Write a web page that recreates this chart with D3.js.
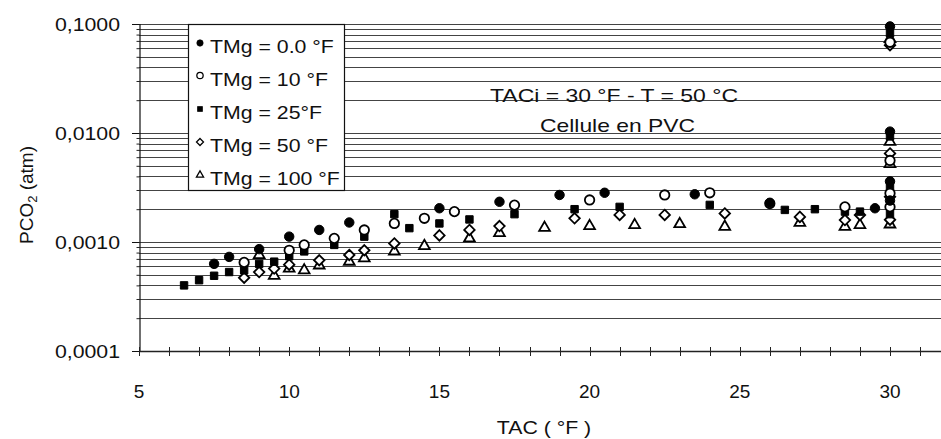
<!DOCTYPE html>
<html><head><meta charset="utf-8">
<script src="https://cdn.jsdelivr.net/npm/d3@7"></script>
<style>
html,body{margin:0;padding:0;background:#fff;}
svg{display:block;font-family:"Liberation Sans",Arial,sans-serif;}
</style></head>
<body><svg id="c" width="941" height="439"></svg>
<script>
// ---- data (TAC in °F, PCO2 in atm) ----
const seriesNames = ["TMg = 0.0 °F","TMg = 10 °F","TMg = 25°F","TMg = 50 °F","TMg = 100 °F"];
const tmg0 = [[7.5,0.00063],[8,0.00073],[9,0.00086],[10,0.00112],[11,0.00129],[12,0.00151],[15,0.00204],[17,0.00234],[19,0.0027],[20.5,0.00283],[23.5,0.00274],[26,0.00229],[29.5,0.00204],[30,0.095],[30,0.0103],[30,0.0036],[30,0.0024]];
const tmg10 = [[8.5,0.00065],[10,0.00084],[10.5,0.00094],[11.5,0.00108],[12.5,0.00129],[13.5,0.00148],[14.5,0.00165],[15.5,0.0019],[17.5,0.00218],[20,0.00243],[22.5,0.0027],[24,0.00283],[26,0.00225],[28.5,0.0021],[30,0.068],[30,0.0056],[30,0.0028],[30,0.0021]];
const tmg25 = [[6.5,0.0004],[7,0.000446],[7.5,0.00049],[8,0.00053],[8.5,0.00055],[9,0.00063],[9.5,0.00066],[10,0.00074],[10.5,0.00082],[11.5,0.00094],[12.5,0.00112],[13.5,0.0018],[14,0.00134],[15,0.00148],[16,0.00161],[17.5,0.0018],[19.5,0.002],[21,0.0021],[24,0.00219],[26.5,0.00197],[27.5,0.002],[28.5,0.0019],[29,0.0019],[30,0.082],[30,0.0093],[30,0.0032],[30,0.0018]];
const tmg50 = [[8.5,0.00047],[9,0.00053],[9.5,0.00057],[10,0.00062],[11,0.00068],[12,0.00076],[12.5,0.00084],[13.5,0.00097],[15,0.00115],[16,0.00129],[17,0.0014],[19.5,0.00165],[21,0.00177],[22.5,0.00177],[24.5,0.00183],[27,0.0017],[28.5,0.00159],[29,0.00177],[30,0.064],[30,0.0065],[30,0.0026],[30,0.0016]];
const tmg100 = [[9,0.00076],[9.5,0.00049],[10,0.00057],[10.5,0.00055],[11,0.00061],[12,0.00066],[12.5,0.00071],[13.5,0.00082],[14.5,0.00092],[16,0.00108],[17,0.00121],[18.5,0.00135],[20,0.0014],[21.5,0.00143],[23,0.00146],[24.5,0.00138],[27,0.0015],[28.5,0.00138],[29,0.00143],[30,0.073],[30,0.0083],[30,0.0052],[30,0.00145]];
const yTickValues = [0.0001,0.001,0.01,0.1];
const yTickLabels = ["0,0001","0,0010","0,0100","0,1000"];
const xTickLabels = [5,10,15,20,25,30];
const xTitle = "TAC ( °F )";
const note1 = "TACi = 30 °F - T = 50 °C";
const note2 = "Cellule en PVC";

// ---- layout ----
const svg = d3.select("#c");
const L=139, R=941, T=24, B=351;
const x = d3.scaleLinear().domain([5,30]).range([L,890]);
const y = d3.scaleLog().domain([1e-4,0.1]).range([B,T]);
const FS = 19, STRETCH = 1.12;
function stretch(sel){ sel.each(function(){ const w=this.getComputedTextLength(); d3.select(this).attr("textLength",w*STRETCH).attr("lengthAdjust","spacingAndGlyphs"); }); return sel; }

// gridlines
svg.append("g").selectAll("line").data(y.ticks()).join("line")
  .attr("x1",L).attr("x2",R).attr("y1",d=>Math.round(y(d))+0.5).attr("y2",d=>Math.round(y(d))+0.5)
  .attr("stroke","#444").attr("stroke-width",1);

// y axis
const gy = svg.append("g").attr("transform",`translate(${L+0.5},0)`)
  .call(d3.axisLeft(y).tickValues(y.ticks()).tickFormat("").tickSize(3));
gy.selectAll(".tick line").attr("stroke","#222");
gy.select(".domain").attr("stroke","#111").attr("stroke-width",1.2);
svg.append("g").selectAll("line").data(yTickValues).join("line")
  .attr("x1",L-7).attr("x2",L).attr("y1",d=>Math.round(y(d))+0.5).attr("y2",d=>Math.round(y(d))+0.5).attr("stroke","#111");
svg.append("g").selectAll("text").data(yTickValues).join("text")
  .attr("x",120).attr("y",d=>y(d)).attr("dy","0.36em").attr("text-anchor","end")
  .attr("font-size",FS).attr("fill","#111").text((d,i)=>yTickLabels[i]).call(stretch);

// x axis
svg.append("line").attr("x1",L).attr("x2",R).attr("y1",B+0.5).attr("y2",B+0.5).attr("stroke","#222").attr("stroke-width",1.5);
svg.append("g").selectAll("line").data(d3.range(5,32)).join("line")
  .attr("x1",d=>Math.round(x(d))+0.5).attr("x2",d=>Math.round(x(d))+0.5)
  .attr("y1",B-4).attr("y2",B+5).attr("stroke","#222");
svg.append("g").selectAll("text").data(xTickLabels).join("text")
  .attr("x",d=>x(d)).attr("y",398).attr("text-anchor","middle")
  .attr("font-size",FS).attr("fill","#111").text(d=>d);
svg.append("text").attr("x",544).attr("y",434).attr("text-anchor","middle")
  .attr("font-size",FS).attr("fill","#111").text(xTitle).call(stretch);

// y title
const yt = svg.append("text").attr("transform","translate(33,195) rotate(-90)")
  .attr("text-anchor","middle").attr("font-size",FS).attr("fill","#111");
yt.append("tspan").text("PCO");
yt.append("tspan").attr("font-size",13).attr("dy",4).text("2");
yt.append("tspan").attr("dy",-4).text(" (atm)");

// annotations
svg.append("text").attr("x",490).attr("y",102).attr("font-size",FS).attr("fill","#111")
  .attr("textLength",248).attr("lengthAdjust","spacingAndGlyphs").text(note1);
svg.append("text").attr("x",540).attr("y",132).attr("font-size",FS).attr("fill","#111")
  .attr("textLength",155).attr("lengthAdjust","spacingAndGlyphs").text(note2);

// markers
const sym = {
  0: {type:d3.symbolCircle, size:70, fill:"#000", stroke:"#000", sw:1},
  1: {type:d3.symbolCircle, size:70, fill:"#fff", stroke:"#000", sw:1.8},
  2: {type:d3.symbolSquare, size:55, fill:"#000", stroke:"#000", sw:1},
  3: {type:d3.symbolDiamond2, size:70, fill:"#fff", stroke:"#000", sw:1.8},
  4: {type:d3.symbolTriangle, size:50, fill:"#fff", stroke:"#000", sw:1.8}
};
const allSeries = [tmg0,tmg10,tmg25,tmg50,tmg100];
[4,3,2,1,0].forEach(i=>{
  const s = sym[i];
  svg.append("g").selectAll("path").data(allSeries[i]).join("path")
    .attr("d",d3.symbol(s.type,s.size))
    .attr("transform",d=>`translate(${x(d[0])},${y(d[1])})`)
    .attr("fill",s.fill).attr("stroke",s.stroke).attr("stroke-width",s.sw);
});

// legend
const lg = svg.append("g");
lg.append("rect").attr("x",188.5).attr("y",24.5).attr("width",156).attr("height",166)
  .attr("fill","#fff").attr("stroke","#111").attr("stroke-width",1.2);
const rowsY = [53,85.5,119,152,185];
seriesNames.forEach((n,i)=>{
  const s = sym[i];
  lg.append("path").attr("d",d3.symbol(s.type,s.size*0.45))
    .attr("transform",`translate(200,${rowsY[i]-10})`)
    .attr("fill",s.fill).attr("stroke",s.stroke).attr("stroke-width",s.sw*0.7);
  lg.append("text").attr("x",210).attr("y",rowsY[i]).attr("font-size",FS).attr("fill","#111").text(n).call(stretch);
});
</script></body></html>
